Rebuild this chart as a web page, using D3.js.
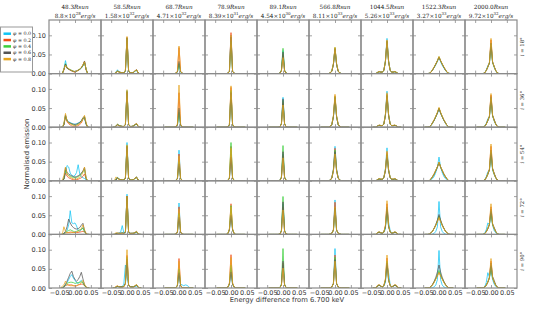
<!DOCTYPE html>
<html><head><meta charset="utf-8">
<script src="https://cdn.jsdelivr.net/npm/d3@7"></script>
<style>body{margin:0;background:#fff} svg{display:block}</style>
</head><body><svg id="c" width="550" height="309"></svg>
<script>
// ---------------- data ----------------
const phiLabels = ["0.0","0.2","0.4","0.6","0.8"];
const colors = ["#10c4f4","#f24c14","#3ccf3c","#555555","#e6a41e"];
const radii = ["48.3","58.5","68.7","78.9","89.1","566.8","1044.5","1522.3","2000.0"];
const lumMantissa = ["8.8","1.58","4.71","8.39","4.54","8.11","5.26","3.27","9.72"];
const lumExponent = ["28","32","32","31","30","33","33","33","32"];
const inclinations = ["18","36","54","72","90"];
const energy = [-0.045,-0.04,-0.035,-0.03,-0.025,-0.02,-0.015,-0.01,-0.005,0,0.005,0.01,0.015,0.02,0.025,0.03,0.035,0.04,0.045];
const xTicks = [-0.05, 0, 0.05];
const yTicks = [0, 0.05, 0.10];
const emissionUnit = 0.001; // values below are in units of 0.001

const emission18 = [
 [[0,0,12,34,14,12,10,8,6,5,7,9,11,14,20,30,12,0,0],[0,0,10,24,14,11,9,7,5,3,6,8,11,15,22,32,10,0,0],[0,0,11,26,15,12,10,8,6,5,6,9,12,15,21,30,11,0,0],[0,0,10,25,14,12,9,7,6,5,7,9,11,15,22,33,10,0,0],[0,0,12,22,16,13,10,8,6,6,7,9,12,16,23,31,12,0,0]],
 [[0,0,4,10,5,3,2,2,6,92,6,2,2,3,6,9,3,0,0],[0,0,2,6,4,3,2,2,8,94,8,2,2,3,7,10,2,0,0],[0,0,2,7,4,3,2,2,7,93,7,2,2,3,6,9,2,0,0],[0,0,2,7,4,3,2,2,7,94,7,2,2,3,7,10,2,0,0],[0,0,3,6,4,3,2,2,9,97,9,2,2,3,7,10,3,0,0]],
 [[0,0,0,0,0,0,0,1,4,28,4,1,0,0,0,0,0,0,0],[0,0,0,0,0,0,0,1,6,68,6,1,0,0,0,0,0,0,0],[0,0,0,0,0,0,0,1,4,25,4,1,0,0,0,0,0,0,0],[0,0,0,0,0,0,0,1,4,32,5,1,0,0,0,0,0,0,0],[0,0,0,0,0,0,0,1,6,72,6,1,0,0,0,0,0,0,0]],
 [[0,0,0,0,0,0,0,1,6,100,6,1,0,0,0,0,0,0,0],[0,0,0,0,0,0,0,1,6,107,6,1,0,0,0,0,0,0,0],[0,0,0,0,0,0,0,1,5,85,5,1,0,0,0,0,0,0,0],[0,0,0,0,0,0,0,1,6,95,6,1,0,0,0,0,0,0,0],[0,0,0,0,0,0,0,1,6,100,6,1,0,0,0,0,0,0,0]],
 [[0,0,0,0,0,0,0,1,8,60,8,1,0,0,0,0,0,0,0],[0,0,0,0,0,0,0,1,7,50,7,1,0,0,0,0,0,0,0],[0,0,0,0,0,0,0,1,9,66,9,1,0,0,0,0,0,0,0],[0,0,0,0,0,0,0,1,8,56,8,1,0,0,0,0,0,0,0],[0,0,0,0,0,0,0,1,7,42,7,1,0,0,0,0,0,0,0]],
 [[0,0,0,0,0,0,2,6,24,64,24,6,2,0,0,0,0,0,0],[0,0,0,0,0,0,2,6,25,66,25,6,2,0,0,0,0,0,0],[0,0,0,0,0,0,2,7,25,68,25,6,2,0,0,0,0,0,0],[0,0,0,0,0,0,2,6,24,65,24,6,2,0,0,0,0,0,0],[0,0,0,0,0,0,2,7,26,69,26,7,2,0,0,0,0,0,0]],
 [[0,0,0,3,5,4,4,8,34,92,34,8,4,4,5,3,0,0,0],[0,0,0,3,5,4,4,8,32,86,32,8,4,4,5,3,0,0,0],[0,0,0,3,5,4,4,8,31,85,31,8,4,4,5,3,0,0,0],[0,0,0,3,5,4,4,8,31,84,31,8,4,4,5,3,0,0,0],[0,0,0,3,6,4,4,8,33,88,33,8,4,4,6,3,0,0,0]],
 [[0,0,0,1,4,10,16,23,32,42,31,22,15,9,3,1,0,0,0],[0,0,0,1,4,10,17,25,33,43,33,25,17,10,4,1,0,0,0],[0,0,0,1,4,10,17,25,33,44,33,25,17,10,4,1,0,0,0],[0,0,0,1,4,10,17,25,34,43,34,25,17,10,4,1,0,0,0],[0,0,0,1,4,11,18,26,34,45,34,26,18,11,4,1,0,0,0]],
 [[0,0,0,0,0,2,9,21,28,75,30,16,7,2,0,0,0,0,0],[0,0,0,0,0,2,8,18,28,88,30,18,8,2,0,0,0,0,0],[0,0,0,0,0,2,8,17,27,78,29,18,8,2,0,0,0,0,0],[0,0,0,0,0,2,8,17,27,80,30,19,8,2,0,0,0,0,0],[0,0,0,0,0,2,8,18,29,92,31,18,8,2,0,0,0,0,0]]
];
const emission36 = [
 [[0,0,8,30,18,14,12,10,8,8,9,11,13,16,24,22,8,0,0],[0,0,6,28,14,9,6,3,2,1,2,4,7,11,20,26,9,0,0],[0,0,7,30,16,12,10,8,6,5,6,8,11,15,22,27,9,0,0],[0,0,6,32,17,13,11,9,8,7,8,10,13,17,25,28,8,0,0],[0,0,10,36,16,12,9,7,5,4,5,7,10,14,23,31,12,0,0]],
 [[0,0,3,8,5,3,2,2,7,96,7,2,2,3,6,8,3,0,0],[0,0,2,6,4,3,2,2,7,92,7,2,2,3,6,9,2,0,0],[0,0,2,7,4,3,2,2,7,94,7,2,2,3,6,8,2,0,0],[0,0,2,7,4,3,2,2,7,93,7,2,2,3,7,9,2,0,0],[0,0,4,8,4,3,2,2,8,98,8,2,2,3,7,10,3,0,0]],
 [[0,0,0,0,0,0,0,1,5,45,5,1,0,0,0,0,0,0,0],[0,0,0,0,0,0,0,1,7,90,7,1,0,0,0,0,0,0,0],[0,0,0,0,0,0,0,1,5,40,5,1,0,0,0,0,0,0,0],[0,0,0,0,0,0,0,1,5,50,5,1,0,0,0,0,0,0,0],[0,0,0,0,0,0,0,1,8,110,8,1,0,0,0,0,0,0,0]],
 [[0,0,0,0,0,0,0,1,6,92,6,1,0,0,0,0,0,0,0],[0,0,0,0,0,0,0,1,7,104,7,1,0,0,0,0,0,0,0],[0,0,0,0,0,0,0,1,6,96,6,1,0,0,0,0,0,0,0],[0,0,0,0,0,0,0,1,6,90,6,1,0,0,0,0,0,0,0],[0,0,0,0,0,0,0,1,7,108,7,1,0,0,0,0,0,0,0]],
 [[0,0,0,0,0,0,0,1,9,78,9,1,0,0,0,0,0,0,0],[0,0,0,0,0,0,0,1,8,64,8,1,0,0,0,0,0,0,0],[0,0,0,0,0,0,0,1,9,70,9,1,0,0,0,0,0,0,0],[0,0,0,0,0,0,0,1,9,74,9,1,0,0,0,0,0,0,0],[0,0,0,0,0,0,0,1,8,58,8,1,0,0,0,0,0,0,0]],
 [[0,0,0,0,0,0,2,7,27,76,27,7,2,0,0,0,0,0,0],[0,0,0,0,0,0,2,7,28,82,28,7,2,0,0,0,0,0,0],[0,0,0,0,0,0,2,7,28,80,28,7,2,0,0,0,0,0,0],[0,0,0,0,0,0,2,7,27,78,27,7,2,0,0,0,0,0,0],[0,0,0,0,0,0,2,8,30,86,30,8,2,0,0,0,0,0,0]],
 [[0,0,0,3,5,4,4,8,34,94,34,8,4,4,5,3,0,0,0],[0,0,0,3,5,4,4,8,32,86,32,8,4,4,5,3,0,0,0],[0,0,0,3,5,4,4,8,31,84,31,8,4,4,5,3,0,0,0],[0,0,0,3,5,4,4,8,30,82,30,8,4,4,5,3,0,0,0],[0,0,0,3,6,5,4,8,33,90,33,8,4,5,6,3,0,0,0]],
 [[0,0,0,1,4,11,18,27,36,48,36,27,18,11,4,1,0,0,0],[0,0,0,1,5,12,19,28,38,50,38,28,19,12,5,1,0,0,0],[0,0,0,1,5,12,19,28,38,50,38,28,19,12,5,1,0,0,0],[0,0,0,1,5,12,19,28,37,49,37,28,19,12,5,1,0,0,0],[0,0,0,1,5,12,20,29,39,52,39,29,20,12,5,1,0,0,0]],
 [[0,0,0,0,0,3,10,22,28,72,30,16,7,2,0,0,0,0,0],[0,0,0,0,0,2,8,18,28,84,30,18,8,2,0,0,0,0,0],[0,0,0,0,0,2,8,17,27,76,29,18,8,2,0,0,0,0,0],[0,0,0,0,0,2,8,17,28,80,31,20,9,2,0,0,0,0,0],[0,0,0,0,0,2,8,18,29,88,31,18,8,2,0,0,0,0,0]]
];
const emission54 = [
 [[0,0,4,20,40,36,20,14,12,14,22,42,18,10,8,6,2,0,0],[0,0,4,20,12,8,6,4,3,2,3,4,6,8,12,18,5,0,0],[0,0,5,28,18,14,12,10,9,8,9,11,14,18,24,30,6,0,0],[0,0,5,34,22,18,15,13,11,10,11,13,16,20,26,35,6,0,0],[0,2,14,36,18,12,9,7,5,4,5,7,10,14,22,36,8,0,0]],
 [[0,0,3,9,5,3,2,2,8,100,8,2,2,3,6,10,3,0,0],[0,0,2,7,4,3,2,2,7,90,7,2,2,3,6,9,2,0,0],[0,0,2,8,4,3,2,2,7,92,7,2,2,3,6,9,2,0,0],[0,0,2,8,4,3,2,2,7,90,7,2,2,3,7,10,2,0,0],[0,0,10,7,4,3,2,2,8,94,8,2,2,3,7,10,3,0,0]],
 [[0,0,0,0,0,0,0,1,7,80,7,1,0,0,0,0,0,0,0],[0,0,0,0,0,0,0,1,6,70,6,1,0,0,0,0,0,0,0],[0,0,0,0,0,0,0,1,5,50,5,1,0,0,0,0,0,0,0],[0,0,0,0,0,0,0,1,5,45,5,1,0,0,0,0,0,0,0],[0,0,0,0,0,0,0,1,6,65,6,1,0,0,0,0,0,0,0]],
 [[0,0,0,0,0,0,0,1,6,70,6,1,0,0,0,0,0,0,0],[0,0,0,0,0,0,0,1,7,90,7,1,0,0,0,0,0,0,0],[0,0,0,0,0,0,0,1,8,100,8,1,0,0,0,0,0,0,0],[0,0,0,0,0,0,0,1,6,62,6,1,0,0,0,0,0,0,0],[0,0,0,0,0,0,0,1,7,85,7,1,0,0,0,0,0,0,0]],
 [[0,0,0,0,0,0,0,1,8,70,8,1,0,0,0,0,0,0,0],[0,0,0,0,0,0,0,1,8,66,8,1,0,0,0,0,0,0,0],[0,0,0,0,0,0,0,1,10,92,10,1,0,0,0,0,0,0,0],[0,0,0,0,0,0,0,1,9,76,9,1,0,0,0,0,0,0,0],[0,0,0,0,0,0,0,1,8,60,8,1,0,0,0,0,0,0,0]],
 [[0,0,0,0,0,0,2,8,30,90,30,8,2,0,0,0,0,0,0],[0,0,0,0,0,0,2,8,29,85,29,8,2,0,0,0,0,0,0],[0,0,0,0,0,0,2,7,28,80,28,7,2,0,0,0,0,0,0],[0,0,0,0,0,0,2,7,26,76,26,7,2,0,0,0,0,0,0],[0,0,0,0,0,0,2,7,25,70,25,7,2,0,0,0,0,0,0]],
 [[0,0,0,3,5,4,4,8,32,86,30,8,4,4,5,3,0,0,0],[0,0,0,3,5,4,4,8,28,74,28,8,4,4,5,3,0,0,0],[0,0,0,3,5,4,4,8,27,70,27,8,4,4,5,3,0,0,0],[0,0,0,3,5,4,4,8,26,68,26,8,4,4,5,3,0,0,0],[0,0,0,3,6,5,4,9,29,78,29,9,4,5,6,3,0,0,0]],
 [[0,0,0,0,2,6,12,22,36,62,36,22,12,6,2,0,0,0,0],[0,0,0,1,5,11,18,27,36,47,36,27,18,11,5,1,0,0,0],[0,0,0,1,5,11,18,27,36,48,36,27,18,11,5,1,0,0,0],[0,0,0,1,5,11,18,27,36,48,36,27,18,11,5,1,0,0,0],[0,0,0,1,5,11,19,28,37,49,37,28,19,11,5,1,0,0,0]],
 [[0,0,0,0,0,3,10,24,28,70,28,16,7,2,0,0,0,0,0],[0,0,0,0,0,2,8,18,30,90,32,18,8,2,0,0,0,0,0],[0,0,0,0,0,2,8,17,28,76,30,18,8,2,0,0,0,0,0],[0,0,0,0,0,2,8,17,28,80,32,20,9,2,0,0,0,0,0],[0,0,0,0,0,2,8,18,30,96,32,18,8,2,0,0,0,0,0]]
];
const emission72 = [
 [[0,0,2,6,10,25,62,30,28,30,22,10,8,12,18,10,2,0,0],[0,0,2,4,4,5,6,6,5,5,5,5,6,7,8,6,2,0,0],[0,0,2,4,8,10,12,10,8,6,8,10,12,14,16,6,2,0,0],[0,0,3,8,20,40,30,22,18,15,14,15,18,24,29,10,2,0,0],[0,0,20,8,5,4,4,5,5,6,6,8,10,14,25,12,3,0,0]],
 [[0,0,0,2,3,6,23,4,4,105,6,2,2,3,4,5,2,0,0],[0,0,2,3,3,3,3,3,6,100,6,3,3,3,4,6,2,0,0],[0,0,2,3,3,3,4,3,6,98,6,3,3,3,4,6,2,0,0],[0,0,2,3,3,3,4,3,6,100,6,3,3,3,5,8,2,0,0],[0,0,5,3,2,2,2,2,6,100,6,2,2,3,5,8,3,0,0]],
 [[0,0,0,0,0,0,0,1,7,82,7,1,0,0,0,0,0,0,0],[0,0,0,0,0,0,0,1,7,72,7,1,0,0,0,0,0,0,0],[0,0,0,0,0,0,0,1,5,55,5,1,0,0,0,0,0,0,0],[0,0,0,0,0,0,0,1,5,45,5,1,0,0,0,0,0,0,0],[0,0,0,0,0,0,0,1,6,66,6,1,0,0,0,0,0,0,0]],
 [[0,0,0,0,0,0,0,2,12,60,12,2,0,0,0,0,0,0,0],[0,0,0,0,0,0,0,2,14,80,14,2,0,0,0,0,0,0,0],[0,0,0,0,0,0,0,2,13,75,13,2,0,0,0,0,0,0,0],[0,0,0,0,0,0,0,2,11,50,11,2,0,0,0,0,0,0,0],[0,0,0,0,0,0,0,2,13,72,13,2,0,0,0,0,0,0,0]],
 [[0,0,0,0,0,0,0,1,9,80,9,1,0,0,0,0,0,0,0],[0,0,0,0,0,0,0,1,8,72,8,1,0,0,0,0,0,0,0],[0,0,0,0,0,0,0,1,10,99,10,1,0,0,0,0,0,0,0],[0,0,0,0,0,0,0,1,9,85,9,1,0,0,0,0,0,0,0],[0,0,0,0,0,0,0,1,8,64,8,1,0,0,0,0,0,0,0]],
 [[0,0,0,0,0,0,1,3,12,90,12,3,1,0,0,0,0,0,0],[0,0,0,0,0,0,1,3,12,84,12,3,1,0,0,0,0,0,0],[0,0,0,0,0,0,1,3,10,66,10,3,1,0,0,0,0,0,0],[0,0,0,0,0,0,1,3,11,70,11,3,1,0,0,0,0,0,0],[0,0,0,0,0,0,1,3,11,72,11,3,1,0,0,0,0,0,0]],
 [[0,0,0,4,6,4,3,5,14,72,32,10,3,4,6,4,0,0,0],[0,0,0,4,6,4,3,6,22,80,22,6,3,4,6,4,0,0,0],[0,0,0,4,6,4,3,6,20,62,20,6,3,4,6,4,0,0,0],[0,0,0,4,6,4,3,6,20,70,20,6,3,4,6,4,0,0,0],[0,0,0,5,7,5,3,6,24,88,24,6,3,5,7,5,0,0,0]],
 [[0,0,0,0,0,1,3,8,20,86,20,8,3,1,0,0,0,0,0],[0,0,0,1,4,9,16,24,34,46,34,24,16,9,4,1,0,0,0],[0,0,0,1,4,9,16,25,36,48,36,25,16,9,4,1,0,0,0],[0,0,0,1,4,9,17,26,38,52,38,26,17,9,4,1,0,0,0],[0,0,0,1,4,9,16,24,33,44,33,24,16,9,4,1,0,0,0]],
 [[0,0,0,0,0,3,12,30,26,55,24,10,4,1,0,0,0,0,0],[0,0,0,0,0,2,7,15,26,72,26,15,7,2,0,0,0,0,0],[0,0,0,0,0,2,7,15,25,60,25,16,7,2,0,0,0,0,0],[0,0,0,0,0,2,7,15,26,66,28,18,8,2,0,0,0,0,0],[0,0,0,0,0,2,7,16,28,80,28,16,7,2,0,0,0,0,0]]
];
const emission90 = [
 [[0,0,2,8,14,22,30,35,26,20,14,12,16,20,14,6,2,0,0],[0,0,2,6,8,8,8,8,6,5,6,8,9,10,10,6,2,0,0],[0,0,3,8,12,14,15,15,14,12,13,14,15,16,14,6,2,0,0],[0,0,3,10,18,28,38,44,30,22,18,22,30,41,24,8,2,0,0],[0,5,8,18,10,7,6,6,6,6,6,8,10,14,20,10,3,0,0]],
 [[0,0,2,4,3,3,4,10,60,30,8,3,3,3,4,5,2,0,0],[0,0,3,5,3,3,3,4,12,85,8,3,3,3,5,8,2,0,0],[0,0,2,4,3,3,3,4,12,80,8,3,3,3,5,8,2,0,0],[0,0,2,4,3,3,3,4,12,75,8,3,3,3,5,8,2,0,0],[0,0,4,6,3,2,2,3,10,100,8,3,2,3,6,9,3,0,0]],
 [[0,0,0,0,0,0,0,1,8,48,10,8,6,8,7,4,0,0,0],[0,0,0,0,0,0,0,1,7,77,7,1,0,0,0,0,0,0,0],[0,0,0,0,0,0,0,1,6,50,6,1,0,0,0,0,0,0,0],[0,0,0,0,0,0,0,1,5,40,5,1,0,0,0,0,0,0,0],[0,0,0,0,0,0,0,1,7,70,7,1,0,0,0,0,0,0,0]],
 [[0,0,0,0,0,0,0,2,10,52,10,2,0,0,0,0,0,0,0],[0,0,0,0,0,0,0,2,13,87,13,2,0,0,0,0,0,0,0],[0,0,0,0,0,0,0,2,11,60,11,2,0,0,0,0,0,0,0],[0,0,0,0,0,0,0,2,9,42,9,2,0,0,0,0,0,0,0],[0,0,0,0,0,0,0,2,12,80,12,2,0,0,0,0,0,0,0]],
 [[0,0,0,0,0,0,0,1,8,60,8,1,0,0,0,0,0,0,0],[0,0,0,0,0,0,0,1,8,65,8,1,0,0,0,0,0,0,0],[0,0,0,0,0,0,0,1,10,103,10,1,0,0,0,0,0,0,0],[0,0,0,0,0,0,0,1,8,70,8,1,0,0,0,0,0,0,0],[0,0,0,0,0,0,0,1,7,52,7,1,0,0,0,0,0,0,0]],
 [[0,0,0,0,0,0,1,3,12,103,12,3,1,0,0,0,0,0,0],[0,0,0,0,0,0,1,3,12,86,12,3,1,0,0,0,0,0,0],[0,0,0,0,0,0,1,3,11,80,11,3,1,0,0,0,0,0,0],[0,0,0,0,0,0,1,3,11,74,11,3,1,0,0,0,0,0,0],[0,0,0,0,0,0,1,3,11,70,11,3,1,0,0,0,0,0,0]],
 [[0,0,0,6,8,5,3,5,14,60,40,8,3,5,8,6,0,0,0],[0,0,0,6,8,5,3,6,22,78,22,6,3,5,8,6,0,0,0],[0,0,0,5,7,5,3,6,20,70,20,6,3,5,7,5,0,0,0],[0,0,0,5,7,5,3,6,20,66,20,6,3,5,7,5,0,0,0],[0,0,0,7,9,6,3,6,24,86,24,6,3,6,9,7,0,0,0]],
 [[0,0,0,0,0,1,3,8,22,98,22,8,3,1,0,0,0,0,0],[0,0,0,1,4,9,16,24,32,42,32,24,16,9,4,1,0,0,0],[0,0,0,1,4,9,16,25,35,46,35,25,16,9,4,1,0,0,0],[0,0,0,1,4,10,18,28,42,60,42,28,18,10,4,1,0,0,0],[0,0,0,1,4,9,15,23,31,40,31,23,15,9,4,1,0,0,0]],
 [[0,0,0,0,0,3,14,40,28,45,22,10,4,1,0,0,0,0,0],[0,0,0,0,0,2,7,15,26,70,26,15,7,2,0,0,0,0,0],[0,0,0,0,0,2,7,15,25,58,25,16,7,2,0,0,0,0,0],[0,0,0,0,0,2,7,16,28,65,30,20,8,2,0,0,0,0,0],[0,0,0,0,0,2,7,16,28,77,28,16,7,2,0,0,0,0,0]]
];
const rowsData = [emission18, emission36, emission54, emission72, emission90];

// ---------------- layout ----------------
const W = 550, H = 309;
const L = 49, R = 517, T = 20, B = 288;
const nCols = 9, nRows = 5;
const pw = (R - L) / nCols, ph = (B - T) / nRows;
const spine = "#8a8a8a", tickCol = "#8a8a8a", txt = "#333";
const sans = "DejaVu Sans, sans-serif", serif = "DejaVu Serif, Liberation Serif, serif";

const x = d3.scaleLinear().domain([-0.082, 0.082]).range([0, pw]);
const y = d3.scaleLinear().domain([0, 0.14]).range([ph, 0]);

const svg = d3.select("#c");
svg.append("rect").attr("width", W).attr("height", H).attr("fill", "#fff");
svg.append("defs").append("clipPath").attr("id", "clip")
  .append("rect").attr("width", pw).attr("height", ph);

const line = d3.line().x((d, i) => x(energy[i])).y(d => y(d * emissionUnit));

function styleAxis(g) {
  g.select(".domain").remove();
  g.selectAll(".tick line").attr("stroke", tickCol).attr("stroke-width", 0.8);
  g.selectAll(".tick text").attr("fill", txt).style("font-family", sans).style("font-size", "6.5px");
}

rowsData.forEach((rowData, r) => {
  rowData.forEach((panel, c) => {
    const g = svg.append("g").attr("transform", `translate(${L + c * pw},${T + r * ph})`);
    const lg = g.append("g").attr("clip-path", "url(#clip)");
    panel.forEach((s, k) => {
      lg.append("path").attr("d", line(s)).attr("fill", "none")
        .attr("stroke", colors[k]).attr("stroke-width", 1).attr("stroke-opacity", 0.75)
        .attr("stroke-linejoin", "round");
    });
    const fmt = d3.format(".2f");
    g.append("g").attr("transform", `translate(0,${ph})`)
      .call(d3.axisBottom(x).tickValues(xTicks).tickSize(-3).tickPadding(2)
        .tickFormat(r === nRows - 1 ? fmt : () => ""))
      .call(styleAxis);
    g.append("g")
      .call(d3.axisTop(x).tickValues(xTicks).tickSize(-3).tickFormat(() => ""))
      .call(styleAxis);
    g.append("g")
      .call(d3.axisLeft(y).tickValues(yTicks).tickSize(-3).tickPadding(3)
        .tickFormat(c === 0 ? fmt : () => ""))
      .call(styleAxis);
    g.append("g").attr("transform", `translate(${pw},0)`)
      .call(d3.axisRight(y).tickValues(yTicks).tickSize(-3).tickFormat(() => ""))
      .call(styleAxis);
    g.append("rect").attr("width", pw).attr("height", ph).attr("fill", "none")
      .attr("stroke", spine).attr("stroke-width", 1.2);
  });
});

// column titles
radii.forEach((rad, c) => {
  const cx = L + (c + 0.5) * pw;
  const t1 = svg.append("text").attr("x", cx).attr("y", 8.5).attr("text-anchor", "middle")
    .style("font-family", serif).style("font-size", "5.7px").attr("fill", "#222");
  t1.append("tspan").text(rad);
  t1.append("tspan").style("font-style", "italic").text("Rsun");
  const t2 = svg.append("text").attr("x", cx).attr("y", 17.5).attr("text-anchor", "middle")
    .style("font-family", serif).style("font-size", "5.7px").attr("fill", "#222");
  t2.append("tspan").text(lumMantissa[c] + "\u00d710");
  t2.append("tspan").attr("dy", -2.4).style("font-size", "4px").text(lumExponent[c]);
  t2.append("tspan").attr("dy", 2.4).style("font-style", "italic").text("erg/s");
});

// row labels
inclinations.forEach((inc, r) => {
  const cy = T + (r + 0.5) * ph;
  const t = svg.append("text").attr("transform", `translate(522,${cy}) rotate(-90)`)
    .attr("text-anchor", "middle").attr("dy", "0.35em")
    .style("font-family", serif).style("font-size", "5.3px").attr("fill", "#222");
  t.append("tspan").style("font-style", "italic").text("i");
  t.append("tspan").text(" = " + inc + "\u00b0");
});

// axis labels
svg.append("text").attr("x", 287).attr("y", 302).attr("text-anchor", "middle")
  .style("font-family", sans).style("font-size", "6.8px").attr("fill", txt)
  .text("Energy difference from 6.700 keV");
svg.append("text").attr("transform", "translate(27,154) rotate(-90)").attr("text-anchor", "middle")
  .attr("dy", "0.35em").style("font-family", sans).style("font-size", "6.8px").attr("fill", txt)
  .text("Normalised emission");

// legend
const leg = svg.append("g");
leg.append("rect").attr("x", 0.5).attr("y", 27).attr("width", 32).attr("height", 45)
  .attr("fill", "#fff").attr("stroke", "#999").attr("stroke-width", 1);
phiLabels.forEach((p, k) => {
  const yy = 33.7 + k * 6.35;
  leg.append("line").attr("x1", 3.5).attr("x2", 11).attr("y1", yy).attr("y2", yy)
    .attr("stroke", colors[k]).attr("stroke-width", 2.5);
  const t = leg.append("text").attr("x", 13).attr("y", yy).attr("dy", "0.35em")
    .style("font-family", serif).style("font-size", "4.8px").attr("fill", "#222");
  t.append("tspan").style("font-style", "italic").text("\u03c6");
  t.append("tspan").text(" = " + p);
});
</script></body></html>
